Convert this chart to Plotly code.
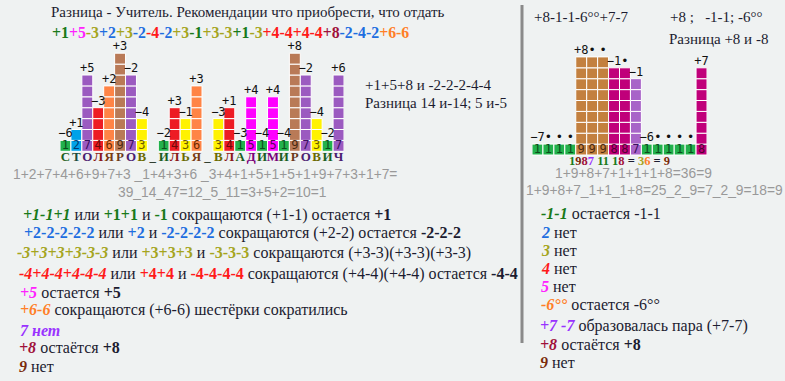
import plotly.graph_objects as go

W, H = 785, 381
BG = "#eff2f2"
DARK = "#1c1c30"
GRAY = "#999999"

# ---------------- data ----------------
left_digits = [1, 2, 7, 4, 6, 9, 7, 3, None, 1, 4, 3, 6, None, 3, 4, 1, 5, 1, 5, 1, 9, 7, 3, 1, 7]
left_letters = list("СТОЛЯРОВ_ИЛЬЯ_ВЛАДИМИРОВИЧ")
left_labels = ["−6", "+1", "+5", "−3", "+2", "+3", "−2", "−4", "",
               "−2", "+3", "−1", "+3", "",
               "−3", "+1", "−3", "+4", "−4", "+4", "−4", "+8", "−2", "−4", "−2", "+6"]

right_digits = [1, 1, 1, 1, 9, 9, 9, 8, 8, 7, 1, 1, 1, 1, 1, 8]
right_labels = ["−7", "•", "•", "•", "+8", "•", "•", "−1", "•", "−1", "−6", "•", "•", "•", "•", "+7"]

header_seq = ["+1", "+5", "-3", "+2", "+3", "-2", "-4", "-2", "+3", "-1", "+3", "-3", "+1", "-3",
              "+4", "-4", "+4", "-4", "+8", "-2", "-4", "-2", "+6", "-6"]
header_cols = ["g", "m", "o", "b", "o", "b", "r", "b", "o", "g", "o", "o", "g", "o",
               "r", "r", "r", "r", "ma", "b", "b", "b", "or", "or"]

# ---------------- colours ----------------
cell_left = {1: "#22b14c", 2: "#00a2e8", 3: "#fff200", 4: "#ed1c24", 5: "#ff00ff",
             6: "#ff8446", 7: "#9b5ac0", 9: "#b97a57"}
cell_right = {1: "#22b14c", 9: "#c3803f", 8: "#c0007a", 7: "#a864c8"}
digit_txt = {1: "#0b4d1c", 2: "#003a70", 3: "#6b5a00", 4: "#6b0a0a", 5: "#5a005a",
             6: "#6b2a00", 7: "#3a1060", 8: "#500030", 9: "#4a2a10"}
letter_col = {1: "#1b5e20", 2: "#1b4d3e", 3: "#6b6b00", 4: "#8b1a1a", 5: "#7a007a",
              6: "#7a3a10", 7: "#4a2070", 9: "#6b3a1a", None: "#2a3a2a"}
C = {"g": "#1a7a1a", "b": "#1e6ee0", "o": "#a5a51e", "r": "#ff1a1a", "m": "#ff22ff",
     "or": "#ff7f27", "p": "#9933ff", "ma": "#a0103a", "br": "#7a2a0a"}

fig = go.Figure()

PITCH = 10.9
YMAX = 12
YMIN = -1.3


def add_cells(digits, colors, xa, ya):
    n = len(digits)
    for k in range(9):
        ys, cs = [], []
        for d in digits:
            if d is not None and d > k:
                ys.append(1)
                cs.append(colors[d])
            else:
                ys.append(None)
                cs.append("rgba(0,0,0,0)")
        fig.add_trace(go.Bar(x=list(range(n)), y=ys, base=k, width=1,
                             marker=dict(color=cs, line=dict(color="white", width=1)),
                             xaxis=xa, yaxis=ya, showlegend=False, hoverinfo="skip"))
    xs = [i for i, d in enumerate(digits) if d is not None]
    fig.add_trace(go.Scatter(x=xs, y=[0.5] * len(xs), mode="text",
                             text=[str(digits[i]) for i in xs],
                             textfont=dict(family="DejaVu Sans Mono", size=12,
                                           color=[digit_txt[digits[i]] for i in xs]),
                             xaxis=xa, yaxis=ya, showlegend=False, hoverinfo="skip",
                             cliponaxis=False))


add_cells(left_digits, cell_left, "x", "y")
add_cells(right_digits, cell_right, "x2", "y2")

lx = [i for i, d in enumerate(left_digits) if d is not None]
fig.add_trace(go.Scatter(x=lx, y=[left_digits[i] for i in lx], mode="text",
                         text=[left_labels[i] for i in lx], textposition="top center",
                         textfont=dict(family="DejaVu Sans Mono", size=12, color="#111"),
                         showlegend=False, hoverinfo="skip", cliponaxis=False))
fig.add_trace(go.Scatter(x=list(range(len(right_digits))), y=right_digits, mode="text",
                         text=right_labels, textposition="top center",
                         textfont=dict(family="DejaVu Sans Mono", size=12, color="#111"),
                         xaxis="x2", yaxis="y2",
                         showlegend=False, hoverinfo="skip", cliponaxis=False))
fig.add_trace(go.Scatter(x=list(range(len(left_letters))), y=[-0.62] * len(left_letters),
                         mode="text", text=["<b>%s</b>" % c for c in left_letters],
                         textfont=dict(family="Liberation Serif", size=13,
                                       color=[letter_col[d] for d in left_digits]),
                         showlegend=False, hoverinfo="skip", cliponaxis=False))


def py(p):
    return 1 - p / H


fig.update_layout(
    width=W, height=H, margin=dict(l=0, r=0, t=0, b=0),
    paper_bgcolor=BG, plot_bgcolor="rgba(0,0,0,0)", barmode="overlay",
    xaxis=dict(domain=[60 / W, 344 / W], range=[-0.5, 25.5], visible=False),
    yaxis=dict(domain=[py(151.3 - PITCH * YMIN), py(151.3 - PITCH * YMAX)],
               range=[YMIN, YMAX], visible=False),
    xaxis2=dict(domain=[532 / W, 707 / W], range=[-0.5, 15.5], visible=False, anchor="y2"),
    yaxis2=dict(domain=[py(155 - PITCH * YMIN), py(155 - PITCH * YMAX)],
                range=[YMIN, YMAX], visible=False, anchor="x2"),
)

ann = []


def T(x, y, s, size=16, family="Liberation Serif", color=DARK, anchor="left"):
    ann.append(dict(x=x / W, y=py(y), xref="paper", yref="paper", text=s, showarrow=False,
                    xanchor=anchor, yanchor="middle", align="left",
                    font=dict(family=family, size=size, color=color)))


def sp(c, s, b=True, i=False):
    t = s
    if i:
        t = "<i>%s</i>" % t
    if b:
        t = "<b>%s</b>" % t
    return '<span style="color:%s">%s</span>' % (C[c], t)


T(248, 12, "Разница - Учитель. Рекомендации что приобрести, что отдать", size=15, anchor="center")
T(230, 32, "".join(sp(c, s) for s, c in zip(header_seq, header_cols)), size=15.8, anchor="center")

T(363, 85, "+1+5+8 и -2-2-2-4-4", size=15)
T(363, 103, "Разница 14 и-14; 5 и-5", size=15)

T(532, 17, "+8-1-1-6°°+7-7", size=15)
T(668, 17, "+8 ;\u00a0\u00a0\u00a0-1-1; -6°°", size=15)
T(667, 39, "Разница +8 и -8", size=15)

T(205, 175, "1+2+7+4+6+9+7+3 _1+4+3+6 _3+4+1+5+1+5+1+9+7+3+1+7=", size=13.8,
  family="Liberation Sans", color=GRAY, anchor="center")
T(222, 193, "39_14_47=12_5_11=3+5+2=10=1", size=13.8, family="Liberation Sans",
  color=GRAY, anchor="center")

N = "<b>%s</b>"
T(21, 215, sp("g", "+1-1+1", i=True) + " или " + sp("g", "+1+1") + " и " + sp("g", "-1")
  + " сокращаются (+1-1) остается " + N % "+1")
T(22, 233, sp("b", "+2-2-2-2-2") + " или " + sp("b", "+2") + " и " + sp("b", "-2-2-2-2")
  + " сокращаются (+2-2) остается " + N % "-2-2-2")
T(15, 253, sp("o", "-3+3+3+3-3-3", i=True) + " или " + sp("o", "+3+3+3") + " и "
  + sp("o", "-3-3-3") + " сокращаются (+3-3)(+3-3)(+3-3)")
T(17, 274, sp("r", "-4+4-4+4-4-4", i=True) + " или " + sp("r", "+4+4") + " и "
  + sp("r", "-4-4-4-4") + " сокращаются (+4-4)(+4-4) остается " + N % "-4-4")
T(18, 292, sp("m", "+5", i=True) + " остается " + N % "+5")
T(18, 310, sp("or", "+6-6", i=True) + " сокращаются (+6-6) шестёрки сократились")
T(18, 330, sp("p", "7 нет", i=True))
T(17, 347, sp("ma", "+8", i=True) + " остаётся " + N % "+8")
T(17, 366, sp("br", "9", i=True) + " нет")

T(619, 161, sp("g", "1") + sp("br", "9") + sp("ma", "8") + sp("p", "7") + sp("g", " 11 1")
  + sp("ma", "8") + N % " = " + sp("o", "3") + sp("or", "6") + N % " = " + sp("br", "9"),
  size=12.5, anchor="center")
T(633, 173, "1+9+8+7+1+1+1+8=36=9", size=13.8, family="Liberation Sans", color=GRAY,
  anchor="center")
T(654, 190, "1+9+8+7_1+1_1+8=25_2_9=7_2_9=18=9", size=13.8, family="Liberation Sans",
  color=GRAY, anchor="center")

T(539, 213, sp("g", "-1-1", i=True) + " остается -1-1")
T(539, 232, sp("b", "2", i=True) + " нет")
T(539, 250, sp("o", "3", i=True) + " нет")
T(539, 268, sp("r", "4", i=True) + " нет")
T(539, 286, sp("m", "5", i=True) + " нет")
T(539, 304, sp("or", "-6°°", i=True) + " остается -6°°")
T(538, 326, sp("p", "+7 -7", i=True) + " образовалась пара (+7-7)")
T(538, 344, sp("ma", "+8", i=True) + " остаётся " + N % "+8")
T(538, 362, sp("br", "9", i=True) + " нет")

fig.update_layout(annotations=ann, shapes=[
    dict(type="line", xref="paper", yref="paper", x0=522 / W, x1=522 / W,
         y0=py(5), y1=py(343), line=dict(color="#8a8a8a", width=3))
])

fig.write_html("out.html", config={"displayModeBar": False}, post_script=(
    "document.body.style.margin='0';document.body.style.padding='0';"
    "document.body.style.overflow='hidden';"
    "document.body.style.background='" + BG + "';"))
